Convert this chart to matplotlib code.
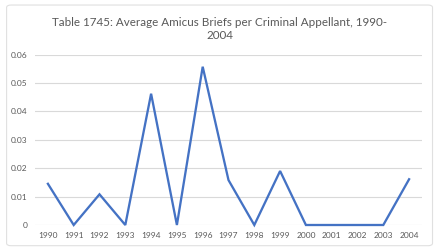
import numpy as np
import matplotlib
matplotlib.use("Agg")
from matplotlib import pyplot as plt
from matplotlib.patches import FancyBboxPatch

years = [1990, 1991, 1992, 1993, 1994, 1995, 1996, 1997, 1998, 1999, 2000, 2001, 2002, 2003, 2004]
briefs = [0.0145, 0.0, 0.0108, 0.0, 0.0462, 0.0, 0.0557, 0.0158, 0.0, 0.019, 0.0, 0.0, 0.0, 0.0, 0.0161]
yticks = [0, 0.01, 0.02, 0.03, 0.04, 0.05, 0.06]
ytick_labels = ["0", "0.01", "0.02", "0.03", "0.04", "0.05", "0.06"]
title = "Table 1745: Average Amicus Briefs per Criminal Appellant, 1990-\n2004"

plt.rcParams['font.family'] = ['Lato', 'DejaVu Sans']
text_col = '#595959'

fig = plt.figure(figsize=(4.4, 2.52), dpi=100)
fig.patch.set_facecolor('white')

# outer chart border
border = FancyBboxPatch((0.015, 0.025), 0.968, 0.955, boxstyle="round,pad=0,rounding_size=0.01",
                        transform=fig.transFigure, linewidth=0.8, edgecolor='#E0E0E0',
                        facecolor='none', zorder=-1)
fig.patches.append(border)

ax = fig.add_axes([35/440, 1 - 225/252, (422 - 35)/440, (225 - 54.5)/252])
ax.patch.set_alpha(0)
x = np.arange(len(years))
ax.plot(x, briefs, color='#4472C4', linewidth=1.65, solid_joinstyle='miter', clip_on=False)

ax.set_xlim(-0.5, len(years) - 0.5)
ax.set_ylim(0, 0.06)
ax.set_yticks(yticks)
ax.set_yticklabels(ytick_labels)
ax.set_xticks(x)
ax.set_xticklabels([str(y) for y in years])
ax.tick_params(axis='both', length=0, labelsize=6, colors=text_col)
ax.tick_params(axis='y', pad=5.5)
ax.tick_params(axis='x', pad=5)
for s in ax.spines.values():
    s.set_visible(False)
ax.grid(axis='y', color='#D9D9D9', linewidth=0.8)
ax.set_axisbelow(True)

fig.text(0.5, 1 - 29/252, title, ha='center', va='center', fontsize=8.4, color=text_col,
         linespacing=1.3)

fig.savefig("out.png", dpi=100)
